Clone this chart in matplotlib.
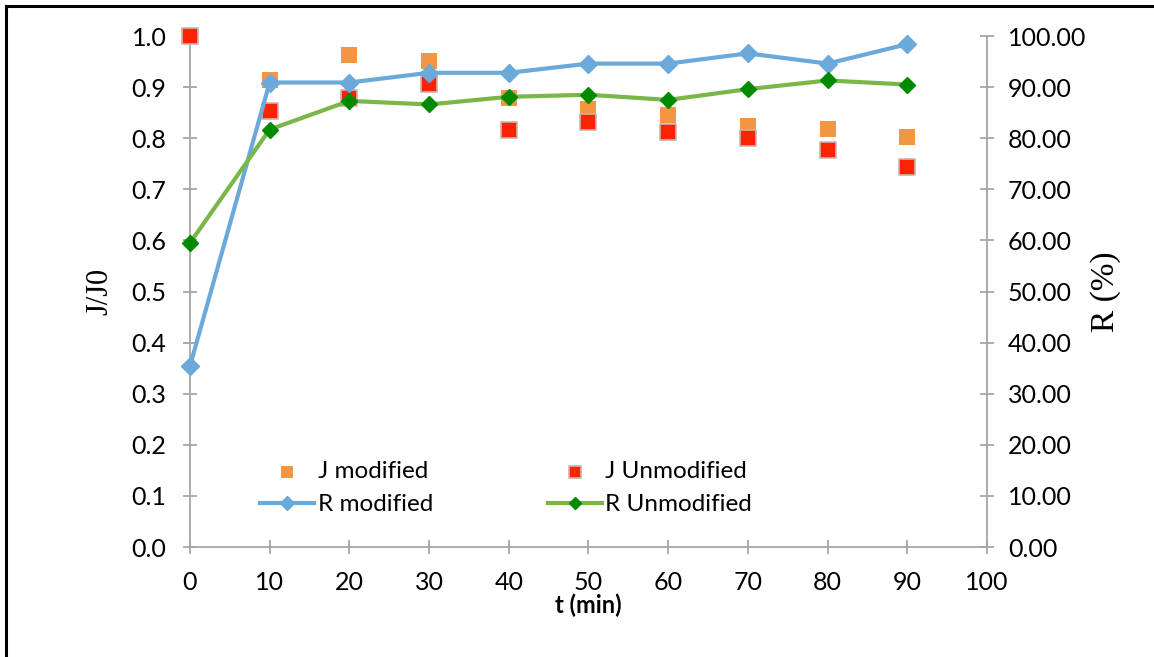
import numpy as np
import matplotlib.pyplot as plt
from matplotlib.lines import Line2D

# data
t = [0, 10, 20, 30, 40, 50, 60, 70, 80, 90]
j_modified = [1.0, 0.914, 0.962, 0.951, 0.879, 0.858, 0.845, 0.823, 0.818, 0.803]
j_unmodified = [1.0, 0.854, 0.879, 0.907, 0.816, 0.832, 0.812, 0.800, 0.776, 0.743]
r_modified = [35.4, 90.9, 90.9, 92.8, 92.8, 94.6, 94.6, 96.6, 94.6, 98.4]
r_unmodified = [59.5, 81.7, 87.3, 86.6, 88.1, 88.5, 87.5, 89.6, 91.3, 90.5]

ORANGE = '#f39642'
RED = '#ff2200'
BLUE = '#6aa9da'
GREEN = '#7ab648'
DKGREEN = '#008a00'
GREY = '#a6a6a6'

SANS = ['Lato', 'DejaVu Sans']
SERIF = ['Liberation Serif', 'DejaVu Serif']


def plot_chart():
    fig = plt.figure(figsize=(11.54, 6.57), dpi=100)
    ax = fig.add_axes([0.1646, 0.1674, 0.6907, 0.7778])
    ax2 = ax.twinx()

    # outer frame (only left and top visible in the reference)
    fig.add_artist(Line2D([0.0055, 0.0055], [0, 0.991], color='black', lw=2.2,
                          transform=fig.transFigure))
    fig.add_artist(Line2D([0.0055, 1.0], [0.991, 0.991], color='black', lw=2.2,
                          transform=fig.transFigure))

    ax.scatter(t, j_modified, marker='s', s=130, color=ORANGE, linewidths=0,
               zorder=3, label='J modified', clip_on=False)
    ax.scatter(t, j_unmodified, marker='s', s=120, color=RED,
               edgecolors='#c8b4b0', linewidths=1.2, zorder=3,
               label='J Unmodified', clip_on=False)
    ax2.plot(t, r_modified, color=BLUE, lw=3, marker='D', ms=9,
             markerfacecolor=BLUE, markeredgecolor=BLUE, label='R modified',
             zorder=4, clip_on=False)
    ax2.plot(t, r_unmodified, color=GREEN, lw=3, marker='D', ms=8,
             markerfacecolor=DKGREEN, markeredgecolor=DKGREEN,
             label='R Unmodified', zorder=4, clip_on=False)

    ax.set_xlim(0, 100)
    ax.set_ylim(0, 1.0)
    ax2.set_ylim(0, 100)
    ax.set_xticks(np.arange(0, 101, 10))
    ax.set_yticks(np.arange(0, 1.01, 0.1))
    ax.set_yticklabels(['%.1f' % v for v in np.arange(0, 1.01, 0.1)])
    ax2.set_yticks(np.arange(0, 101, 10))
    ax2.set_yticklabels(['%.2f' % v for v in np.arange(0, 101, 10)])

    for a in (ax, ax2):
        a.spines['top'].set_visible(False)
        for s in a.spines.values():
            s.set_color(GREY)
            s.set_linewidth(1.3)
        a.tick_params(direction='inout', length=10, width=1.3, color=GREY,
                      labelsize=18)
        for lbl in a.get_xticklabels() + a.get_yticklabels():
            lbl.set_family(SANS)
    ax.spines['right'].set_visible(False)
    ax2.spines['left'].set_visible(False)
    ax2.spines['bottom'].set_visible(False)
    ax.tick_params(axis='y', pad=12)
    ax.tick_params(axis='x', pad=12)
    ax2.tick_params(axis='y', pad=10)

    ax.set_xlabel('t (min)', family=SANS, fontweight='bold', fontsize=17,
                  labelpad=0)
    ax.set_ylabel('J/J0', family=SERIF, fontsize=22, labelpad=12)
    ax2.set_ylabel('R (%)', family=SERIF, fontsize=24, labelpad=3)

    h1, l1 = ax.get_legend_handles_labels()
    h2, l2 = ax2.get_legend_handles_labels()
    handles = [h1[0], h2[0], h1[1], h2[1]]
    labels = [l1[0], l2[0], l1[1], l2[1]]
    ax2.legend(handles, labels, ncol=2, loc='lower left',
               bbox_to_anchor=(0.061, 0.019), frameon=False,
               prop={'family': SANS, 'size': 17.5}, handlelength=2.2,
               handletextpad=0.15, columnspacing=4.75, labelspacing=0.5,
               scatterpoints=1, markerscale=0.8)
    ax.patch.set_visible(False)

    fig.savefig('out.png', dpi=100)


if __name__ == '__main__':
    plot_chart()
